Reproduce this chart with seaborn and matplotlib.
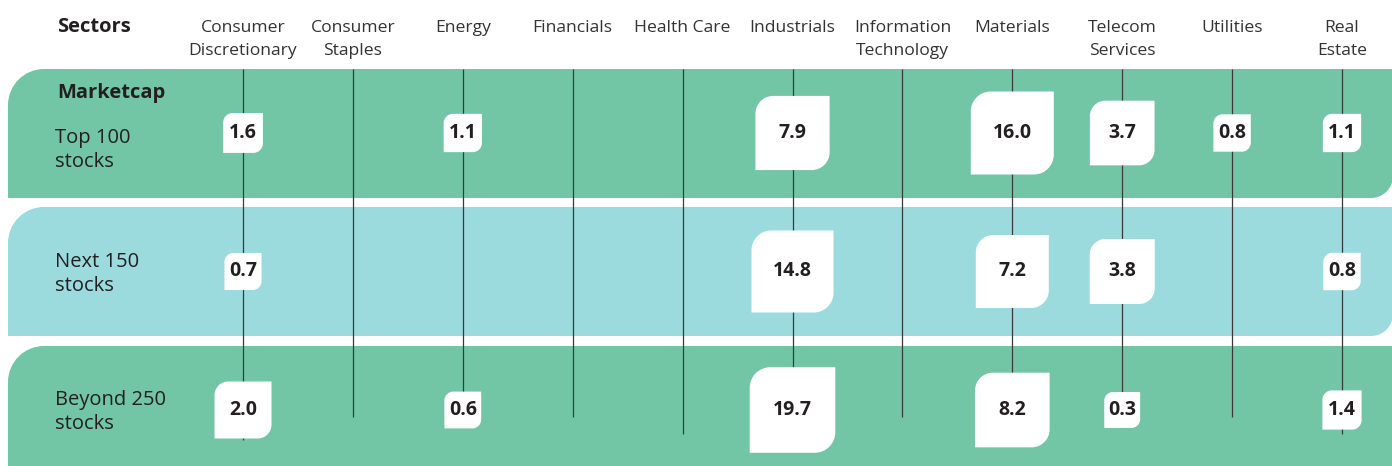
import numpy as np
import pandas as pd
import matplotlib
matplotlib.use("Agg")
import matplotlib.pyplot as plt
import matplotlib.transforms as mtransforms
from matplotlib.path import Path
from matplotlib.patches import PathPatch
import seaborn as sns

# --- DATA ---
SECTORS = ["Consumer\nDiscretionary", "Consumer\nStaples", "Energy", "Financials",
           "Health Care", "Industrials", "Information\nTechnology", "Materials",
           "Telecom\nServices", "Utilities", "Real\nEstate"]
ROWS = ["Top 100\nstocks", "Next 150\nstocks", "Beyond 250\nstocks"]
TOP_100 = [1.6, None, 1.1, None, None, 7.9, None, 16.0, 3.7, 0.8, 1.1]
NEXT_150 = [0.7, None, None, None, None, 14.8, None, 7.2, 3.8, None, 0.8]
BEYOND_250 = [2.0, None, 0.6, None, None, 19.7, None, 8.2, 0.3, None, 1.4]

# --- LAYOUT (pixels) ---
W, H, DPI = 1392, 466, 100
X0, DX = 243, 109.9          # first sector line, spacing
Y0, DY = 133, 138.5          # first row centre, spacing
BAND_TOPS = [69, 207, 346]
BAND_BOTTOMS = [198, 336, 490]
BAND_COLORS = ["#72c6a5", "#9bdbdd", "#72c6a5"]
LINE_BOTTOMS = [440, 417, 410, 417, 434, 410, 417, 410, 410, 417, 434]
TEXT = "#231f20"
FS_HEAD = 12.6
FS_ROW = 14.5
FS_VAL = 14
K = 0.5523


def leaf(x0, y0, x1, y1, r_tl, r_br):
    # rectangle with rounded top-left and bottom-right corners (y up)
    verts = [(x0 + r_tl, y1), (x1, y1), (x1, y0 + r_br),
             (x1, y0 + r_br - K * r_br), (x1 - r_br + K * r_br, y0), (x1 - r_br, y0),
             (x0, y0), (x0, y1 - r_tl),
             (x0, y1 - r_tl + K * r_tl), (x0 + r_tl - K * r_tl, y1), (x0 + r_tl, y1),
             (x0 + r_tl, y1)]
    codes = [Path.MOVETO, Path.LINETO, Path.LINETO,
             Path.CURVE4, Path.CURVE4, Path.CURVE4,
             Path.LINETO, Path.LINETO,
             Path.CURVE4, Path.CURVE4, Path.CURVE4,
             Path.CLOSEPOLY]
    return Path(verts, codes)


def to_x(px):
    return (px - X0) / DX


def to_y(py):
    return (py - Y0) / DY


# long-format table of the values
records = []
for r, vals in enumerate([TOP_100, NEXT_150, BEYOND_250]):
    for i, v in enumerate(vals):
        if v is not None:
            records.append({"row": r, "sector": i, "value": v})
df = pd.DataFrame(records)

# box side grows with the value, small ones just fit the label
side_px = np.where(df["value"] >= 2, 57 + 12.5 * np.log(df["value"] / 2), 35 + 3 * df["value"])
df["area"] = (side_px * 72 / DPI) ** 2

sns.set_theme(style="white")
plt.rcParams["font.family"] = ["Open Sans", "DejaVu Sans"]

fig = plt.figure(figsize=(W / DPI, H / DPI), dpi=DPI)
ax = fig.add_axes([0, 0, 1, 1])
ax.set_xlim(to_x(0), to_x(W))
ax.set_ylim(to_y(H), to_y(0))
ax.axis("off")

# background bands, in pixel space
pix = mtransforms.IdentityTransform()
for top, bot, col in zip(BAND_TOPS, BAND_BOTTOMS, BAND_COLORS):
    p = leaf(8, H - bot, W + 1, H - top, 36, 22)
    ax.add_patch(PathPatch(p, facecolor=col, edgecolor="none", transform=pix, zorder=0))

# sector lines
ax.vlines(range(len(SECTORS)), to_y(69), [to_y(b) for b in LINE_BOTTOMS],
          color="#3a3a3a", linewidth=0.9, zorder=2)

# value boxes
leaf_marker = leaf(-1, -1, 1, 1, 0.48, 0.48)
sns.scatterplot(data=df, x="sector", y="row", s=df["area"], marker=leaf_marker,
                color="white", edgecolor="none", linewidth=0, legend=False,
                ax=ax, zorder=3)
for _, rec in df.iterrows():
    ax.text(rec["sector"], rec["row"], f"{rec['value']:.1f}", ha="center", va="center",
            fontsize=FS_VAL, fontweight="bold", color=TEXT, zorder=4)

# header
ax.text(to_x(57), to_y(27), "Sectors", ha="left", va="center", fontsize=FS_ROW,
        fontweight="bold", color=TEXT)
for i, name in enumerate(SECTORS):
    ax.text(i, to_y(19.5), name, ha="center", va="top", fontsize=FS_HEAD, color="#333333",
            linespacing=1.62)

# row labels
ax.text(to_x(57), to_y(93), "Marketcap", ha="left", va="center", fontsize=FS_ROW,
        fontweight="bold", color=TEXT)
for r, (name, yc) in enumerate(zip(ROWS, [150, 274, 412])):
    ax.text(to_x(55), to_y(yc), name, ha="left", va="center", fontsize=FS_ROW,
            color=TEXT, linespacing=1.3)

fig.savefig("out.png", dpi=DPI)
